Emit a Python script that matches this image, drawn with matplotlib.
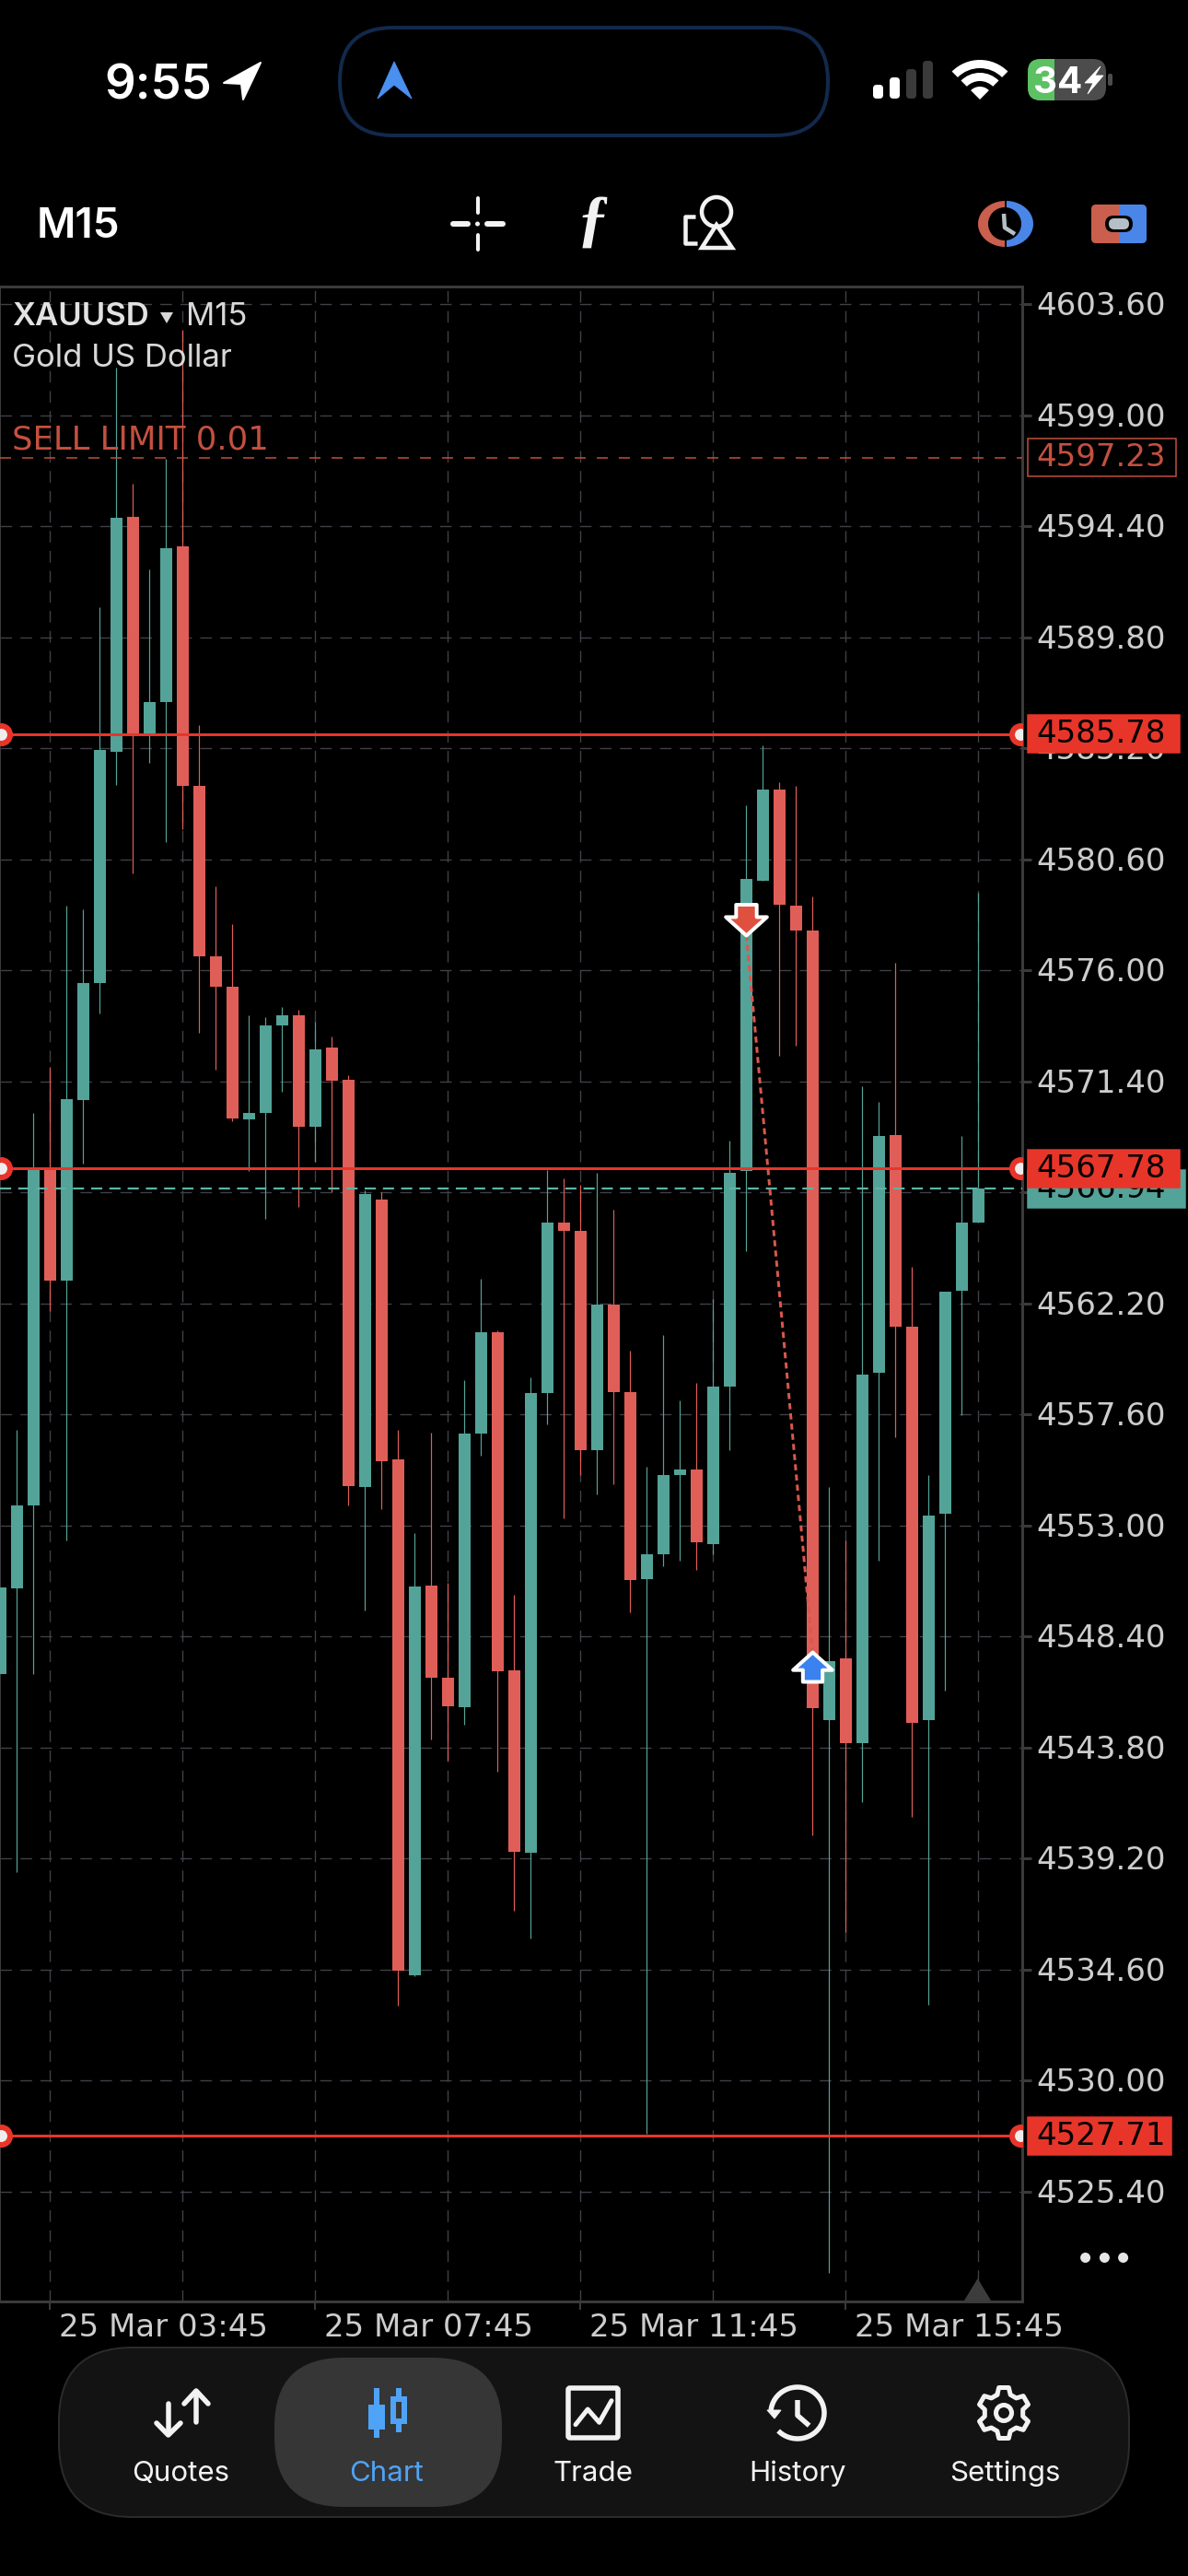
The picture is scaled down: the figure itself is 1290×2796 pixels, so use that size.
#!/usr/bin/env python

import numpy as np
import matplotlib
matplotlib.use('Agg')
import matplotlib.pyplot as plt
from matplotlib.patches import Rectangle, FancyBboxPatch, Polygon, Wedge, Circle
from matplotlib.path import Path
from matplotlib.transforms import blended_transform_factory, ScaledTranslation

# candles, oldest first
opens = [
    4546.83, 4550.38, 4553.82, 4567.74, 4563.16, 4570.62, 4575.46, 4585.05, 4594.79, 4585.69,
    4587.12, 4593.57, 4583.64, 4576.58, 4575.32, 4569.81, 4570.08, 4573.71, 4574.12, 4569.52,
    4572.81, 4571.47, 4554.59, 4566.50, 4555.74, 4534.37, 4550.51, 4546.69, 4545.47, 4556.81,
    4561.00, 4546.99, 4539.43, 4558.49, 4565.54, 4565.20, 4556.12, 4562.16, 4558.53, 4550.76,
    4551.81, 4555.10, 4555.32, 4552.22, 4558.75, 4567.68, 4579.71, 4583.48, 4578.69, 4577.64,
    4544.94, 4547.49, 4543.99, 4559.33, 4569.17, 4561.23, 4544.94, 4553.49, 4562.72, 4565.54]
closes = [
    4550.43, 4553.81, 4567.74, 4563.16, 4570.67, 4575.46, 4585.13, 4594.74, 4585.69, 4587.12,
    4593.47, 4583.62, 4576.58, 4575.32, 4569.86, 4570.08, 4573.71, 4574.12, 4569.52, 4572.71,
    4571.42, 4554.62, 4566.72, 4555.67, 4534.56, 4550.48, 4546.69, 4545.52, 4556.81, 4561.00,
    4546.95, 4539.48, 4558.49, 4565.55, 4565.20, 4556.12, 4562.16, 4558.53, 4550.74, 4551.81,
    4555.10, 4555.32, 4552.30, 4558.75, 4567.61, 4579.78, 4583.48, 4578.71, 4577.64, 4545.45,
    4547.36, 4543.99, 4559.26, 4569.14, 4561.23, 4544.83, 4553.42, 4562.69, 4565.54, 4566.94]
highs = [
    4550.43, 4556.96, 4570.08, 4572.00, 4578.67, 4578.53, 4591.04, 4600.97, 4596.15, 4592.60,
    4597.20, 4602.55, 4586.15, 4579.48, 4577.90, 4574.12, 4574.07, 4574.49, 4574.37, 4573.88,
    4573.27, 4571.64, 4566.90, 4566.82, 4556.96, 4552.67, 4556.84, 4550.63, 4559.03, 4563.20,
    4561.07, 4550.12, 4559.12, 4567.73, 4567.37, 4567.12, 4567.61, 4566.08, 4560.26, 4555.44,
    4560.89, 4558.19, 4558.90, 4562.38, 4568.95, 4582.82, 4585.33, 4583.80, 4583.63, 4579.05,
    4554.59, 4552.39, 4571.19, 4570.53, 4576.30, 4563.71, 4555.10, 4562.69, 4569.14, 4579.22]
lows = [
    4546.83, 4538.63, 4546.85, 4561.87, 4552.38, 4567.99, 4574.22, 4583.66, 4580.00, 4584.59,
    4581.30, 4581.84, 4573.42, 4571.88, 4569.74, 4567.70, 4565.70, 4570.96, 4566.21, 4568.06,
    4566.79, 4553.82, 4549.46, 4553.67, 4533.10, 4534.32, 4544.13, 4543.25, 4544.74, 4555.90,
    4542.80, 4537.04, 4535.90, 4557.20, 4553.30, 4555.07, 4554.27, 4554.71, 4549.40, 4527.79,
    4551.30, 4551.54, 4551.15, 4551.79, 4556.12, 4564.37, 4579.71, 4572.45, 4572.87, 4540.17,
    4522.04, 4536.16, 4541.53, 4551.54, 4556.66, 4540.93, 4533.16, 4546.15, 4557.58, 4565.54]

price_ticks = [4603.60, 4599.00, 4594.40, 4589.80, 4585.20, 4580.60, 4576.00, 4571.40, 4566.80,
               4562.20, 4557.60, 4553.00, 4548.40, 4543.80, 4539.20, 4534.60, 4530.00, 4525.40]
time_ticks = [3, 19, 35, 51]
time_minor = [11, 27, 43, 59]
time_labels = ['25 Mar 03:45', '25 Mar 07:45', '25 Mar 11:45', '25 Mar 15:45']

level_prices = [4585.78, 4567.78, 4527.71]
level_widths = [165, 165, 156]
sell_limit = 4597.23
last_price = 4566.94
sell_k, sell_price = 45, 4577.47
buy_k, buy_price = 49, 4547.75

tab_names = ['Quotes', 'Chart', 'Trade', 'History', 'Settings']
tab_x = [196, 420, 644, 866, 1091]

GREEN = '#53a398'
RED = '#e05e58'
LEVEL = '#e8352a'
LIMIT = '#c4503f'
FRAME = '#3a3a3a'
GRID = '#404047'
TICKTXT = '#cdcdcd'
BLUE = '#4fa3f7'
ICON = '#f2f2f2'
PRICE_FONT = 'DejaVu Sans'
PRICE_SIZE = 24.5

plt.rcParams['font.family'] = ['Inter', 'DejaVu Sans']

W, H = 1290, 2796
LEFT, RIGHT, TOP, BOTTOM = 0, 1110, 311, 2498
PX_PER_PRICE = 26.2
PX_PER_CANDLE = 18.0


def pt(px):
    return px * 0.72


fig = plt.figure(figsize=(W / 100, H / 100), dpi=100, facecolor='black')

# chart
ax = fig.add_axes([LEFT / W, 1 - BOTTOM / H, (RIGHT - LEFT) / W, (BOTTOM - TOP) / H], facecolor='black')
ax.set_xlim((LEFT - 0.4) / PX_PER_CANDLE, (RIGHT - 0.4) / PX_PER_CANDLE)
ax.set_ylim(4603.6 - (BOTTOM - 330) / PX_PER_PRICE, 4603.6 + (330 - TOP) / PX_PER_PRICE)

ax.set_axisbelow(True)
ax.yaxis.tick_right()
ax.set_yticks(price_ticks)
ax.set_yticklabels(['%.2f' % p for p in price_ticks], family=PRICE_FONT)
ax.set_xticks(time_ticks)
ax.set_xticks(time_minor, minor=True)
ax.set_xticklabels(time_labels, ha='left', family=PRICE_FONT)
ax.tick_params(axis='y', which='major', length=pt(10), width=pt(3), color=FRAME, pad=pt(5),
               labelcolor=TICKTXT, labelsize=PRICE_SIZE)
ax.tick_params(axis='x', which='major', length=pt(9), width=pt(2), color=FRAME, pad=pt(3),
               labelcolor=TICKTXT, labelsize=PRICE_SIZE)
ax.tick_params(axis='x', which='minor', length=0)
for lab in ax.get_xticklabels():
    lab.set_transform(lab.get_transform() + ScaledTranslation(10 / 100, 0, fig.dpi_scale_trans))
for lab in ax.get_yticklabels():
    lab.set_transform(lab.get_transform() + ScaledTranslation(0, 1 / 100, fig.dpi_scale_trans))
dash = (0, (9, 6.5))
ax.grid(True, axis='y', which='major', color=GRID, lw=pt(1.4), linestyle=dash)
ax.grid(True, axis='x', which='both', color=GRID, lw=pt(1.4), linestyle=dash)
for side in ['top', 'bottom', 'right']:
    ax.spines[side].set_color(FRAME)
    ax.spines[side].set_linewidth(pt(3))
ax.spines['left'].set_color(FRAME)
ax.spines['left'].set_linewidth(pt(2))

k = np.arange(len(opens))
o = np.array(opens)
c = np.array(closes)
colors = [GREEN if cl >= op else RED for op, cl in zip(opens, closes)]
ax.vlines(k, lows, highs, colors=colors, lw=pt(1.2), zorder=2)
ax.bar(k, np.abs(c - o), bottom=np.minimum(o, c), width=13 / PX_PER_CANDLE, color=colors, linewidth=0, zorder=3)

# levels and their handles
mix = blended_transform_factory(ax.transAxes, ax.transData)
ax.axhline(sell_limit, color=LIMIT, lw=pt(1.5), linestyle=(0, (8, 8)), zorder=4)
ax.axhline(last_price, color='#5db3a6', lw=pt(2.2), linestyle=(0, (5.5, 3.5)), zorder=4)
for p in level_prices:
    ax.axhline(p, color=LEVEL, lw=pt(3), zorder=5)
    ax.plot([0.5 / RIGHT, 1108 / RIGHT], [p, p], 'o', transform=mix, ms=pt(19), mfc='#eeeeee', mec=LEVEL,
            mew=pt(6), zorder=6)

# trade line and arrows, tip of each marker on the price
down_arrow = Path([(0, 0), (-1, 0.9), (-0.5, 0.9), (-0.5, 1.5), (0.5, 1.5), (0.5, 0.9), (1, 0.9), (0, 0)], closed=True)
up_arrow = Path([(0, 0), (-1, -0.9), (-0.5, -0.9), (-0.5, -1.5), (0.5, -1.5), (0.5, -0.9), (1, -0.9), (0, 0)], closed=True)
ax.plot([sell_k, buy_k], [sell_price, buy_price], color='#d8584c', lw=pt(3), linestyle=(0, (2.2, 1.5)), zorder=7)
ax.plot([sell_k], [sell_price], marker=down_arrow, ms=pt(67), mfc='#e0503f', mec='white', mew=pt(4), zorder=8)
ax.plot([buy_k], [buy_price], marker=up_arrow, ms=pt(64), mfc='#3b82f0', mec='white', mew=pt(4), zorder=8)


# price tags right of the chart, same height everywhere
def price_tag(price, width, face, edge, txtcolor, z):
    h = 20.5 / PX_PER_PRICE
    ax.add_patch(Rectangle((1116 / RIGHT, price - h), width / RIGHT, 2 * h, transform=mix, clip_on=False,
                           fc=face, ec=edge, lw=pt(1.5), zorder=z))
    ax.text(1125 / RIGHT, price, '%.2f' % price, transform=mix, clip_on=False, color=txtcolor, fontsize=PRICE_SIZE,
            family=PRICE_FONT, va='center', ha='left', zorder=z + 0.1)


price_tag(sell_limit, 161, 'black', LIMIT, LIMIT, 10)
price_tag(last_price, 171, GREEN, GREEN, 'black', 10)
for p, w in zip(level_prices, level_widths):
    price_tag(p, w, LEVEL, LEVEL, 'black', 11)

# everything around the chart, in screen pixels
ui = fig.add_axes([0, 0, 1, 1], facecolor='none', zorder=5)
ui.set_xlim(0, W)
ui.set_ylim(H, 0)
ui.axis('off')


def round_box(x0, y0, x1, y1, r, **kw):
    ui.add_patch(FancyBboxPatch((x0, y0), x1 - x0, y1 - y0, boxstyle='round,pad=0,rounding_size=%g' % r, **kw))


def stroke(xs, ys, color=ICON, w=5.5, cap='round'):
    ui.plot(xs, ys, color=color, lw=pt(w), solid_capstyle=cap, solid_joinstyle='round')


def half_ellipse(cx, cy, rx, ry, start, stop, color):
    t = np.radians(np.linspace(start, stop, 60))
    pts = np.c_[cx + rx * np.cos(t), cy + ry * np.sin(t)]
    ui.add_patch(Polygon(np.vstack([pts, [[cx, cy]]]), closed=True, fc=color, ec='none'))


# status bar
ui.text(113, 107, '9:55', color='white', fontsize=38, fontweight='semibold', ha='left', va='baseline')
ui.add_patch(Polygon([(283, 68), (243, 90), (262, 91), (264, 108)], closed=True, fc='white', ec='white', lw=pt(2), joinstyle='round'))
round_box(369, 30, 899, 147, 58, fc='black', ec='#12294d', lw=pt(4))
ui.add_patch(Polygon([(428, 67), (447, 107), (428, 92), (410, 107)], closed=True, fc='#4a90f0', ec='#4a90f0', lw=pt(1)))
for x0, y0, col in [(948, 92, 'white'), (966, 84, 'white'), (984, 75, '#3a3a3a'), (1002, 66, '#3a3a3a')]:
    round_box(x0, y0, x0 + 11, 107, 4, fc=col, ec='none')
for r0, r1 in [(0, 14), (20, 29), (34, 43)]:
    ui.add_patch(Wedge((1064, 108), r1, 225, 315, width=r1 - r0, fc='white', ec='none'))
round_box(1116, 64, 1201, 109, 14, fc='#4c4c4c', ec='none')
clip_green = Rectangle((1116, 64), 29, 45, transform=ui.transData)
green_part = FancyBboxPatch((1116, 64), 85, 45, boxstyle='round,pad=0,rounding_size=14', fc='#5cc163', ec='none')
ui.add_patch(green_part)
green_part.set_clip_path(clip_green)
round_box(1203, 80, 1208, 93, 2, fc='#4c4c4c', ec='none')
ui.text(1122, 101, '34', color='white', fontsize=29, fontweight='bold', ha='left', va='baseline')
ui.add_patch(Polygon([(1195, 72), (1178, 90), (1187, 90), (1181, 102), (1198, 82), (1189, 82)], closed=True, fc='white', ec='white', lw=pt(0.8)))

# toolbar
ui.text(40, 258, 'M15', color='white', fontsize=33, fontweight='semibold', ha='left', va='baseline')
stroke([518.5, 518.5], [215, 231], w=4)
stroke([518.5, 518.5], [255, 271], w=4)
stroke([492, 508], [243, 243], w=6)
stroke([529, 546], [243, 243], w=6)
ui.add_patch(Circle((518.5, 243), 2.5, fc=ICON, ec='none'))
ui.text(644, 243, '\u0192', color=ICON, fontsize=50, family='Liberation Serif', style='italic', fontweight='bold', ha='center', va='center')
ui.add_patch(Circle((778, 230), 16, fc='none', ec=ICON, lw=pt(4.5)))
ui.add_patch(Polygon([(778, 244), (762, 269), (795, 269)], closed=True, fc='none', ec=ICON, lw=pt(4.5)))
stroke([755, 744, 744, 757], [235, 235, 264, 264], w=4.5, cap='butt')
half_ellipse(1092, 243, 30, 25, 90, 270, '#c95f4c')
half_ellipse(1092, 243, 30, 25, -90, 90, '#4a85e8')
stroke([1092, 1092], [216, 270], color='black', w=2)
ui.add_patch(Circle((1091, 243), 18, fc='black', ec='none'))
stroke([1090, 1091, 1102], [232, 247, 254], color='#b5bfc5', w=4.5, cap='butt')
round_box(1185, 222, 1220, 264, 5, fc='#c95f4c', ec='none')
round_box(1212, 222, 1245, 264, 5, fc='#4a85e8', ec='none')
ui.add_patch(Rectangle((1212, 222), 2.5, 42, fc='#c95f4c', ec='none'))
round_box(1200, 234, 1230, 252, 9, fc='black', ec='none')
round_box(1204, 237, 1226, 249, 6, fc='#b5bfc5', ec='none')

# symbol header
ui.text(13, 353, 'XAUUSD', color='#e2e2e2', fontsize=25, fontweight='semibold', ha='left', va='baseline')
ui.add_patch(Polygon([(174, 339), (188, 339), (181, 351)], closed=True, fc='#d8d8d8', ec='none'))
ui.text(202, 353, 'M15', color='#d8d8d8', fontsize=25, ha='left', va='baseline')
ui.text(13, 398, 'Gold US Dollar', color='#d8d8d8', fontsize=25, ha='left', va='baseline')
ui.text(13, 488, 'SELL LIMIT 0.01', color=LIMIT, fontsize=25.5, family=PRICE_FONT, ha='left', va='baseline')

# more dots and the shift triangle
for x in [1178.6, 1199.4, 1219.6]:
    ui.add_patch(Circle((x, 2450.5), 5.5, fc='#e6e6e6', ec='none'))
ui.add_patch(Polygon([(1061.6, 2473), (1047, 2497), (1076, 2497)], closed=True, fc='#3c3c3c', ec='none'))

# tab bar
round_box(64, 2548, 1226, 2732, 80, fc='#131313', ec='#2b2b2b', lw=pt(2))
round_box(298, 2559, 545, 2721, 75, fc='#363636', ec='none')
for name, x in zip(tab_names, tab_x):
    ui.text(x, 2693, name, color=BLUE if name == 'Chart' else ICON, fontsize=22.5, ha='center', va='baseline')

# quotes icon
stroke([213, 213], [2596, 2629])
stroke([200, 213, 226], [2609, 2595, 2609])
stroke([182.7, 182.7], [2609, 2642])
stroke([170, 182.7, 196], [2630, 2643, 2630])
# chart icon
ui.add_patch(Rectangle((406.3, 2592), 6, 54, fc=BLUE, ec='none'))
ui.add_patch(Rectangle((400, 2610), 18.3, 27, fc=BLUE, ec='none'))
ui.add_patch(Rectangle((430, 2592), 6, 48, fc=BLUE, ec='none'))
ui.add_patch(Rectangle((424, 2601), 18.3, 30, fc=BLUE, ec='none'))
ui.add_patch(Rectangle((430, 2607), 6, 18, fc='#363636', ec='none'))
# trade icon
round_box(617, 2592, 671, 2646, 2, fc='none', ec=ICON, lw=pt(5.5))
stroke([625, 638.2, 650.7, 664], [2631.7, 2615, 2629.3, 2605.7], w=5)
# history icon
t = np.radians(np.linspace(-178, 136, 120))
stroke(866 + 29 * np.cos(t), 2619 + 28 * np.sin(t), w=5.5, cap='butt')
ui.add_patch(Polygon([(833, 2616), (848, 2616), (841, 2625)], closed=True, fc=ICON, ec=ICON, lw=pt(1)))
stroke([866, 866, 878.6], [2605, 2621.7, 2632.7], w=5.5, cap='butt')
# settings icon, six teeth around
ang = []
rad = []
for n in range(6):
    a0 = -90 + 60 * n
    ang += [a0 - 20, a0 - 11, a0 + 11, a0 + 20]
    rad += [21, 28, 28, 21]
ang = np.radians(ang + [ang[0]])
rad = np.array(rad + [rad[0]])
stroke(1090 + rad * np.cos(ang), 2619 + rad * np.sin(ang), w=5)
ui.add_patch(Circle((1090, 2619), 8.5, fc='none', ec=ICON, lw=pt(5)))

fig.savefig('out.png', dpi=100, facecolor='black')
